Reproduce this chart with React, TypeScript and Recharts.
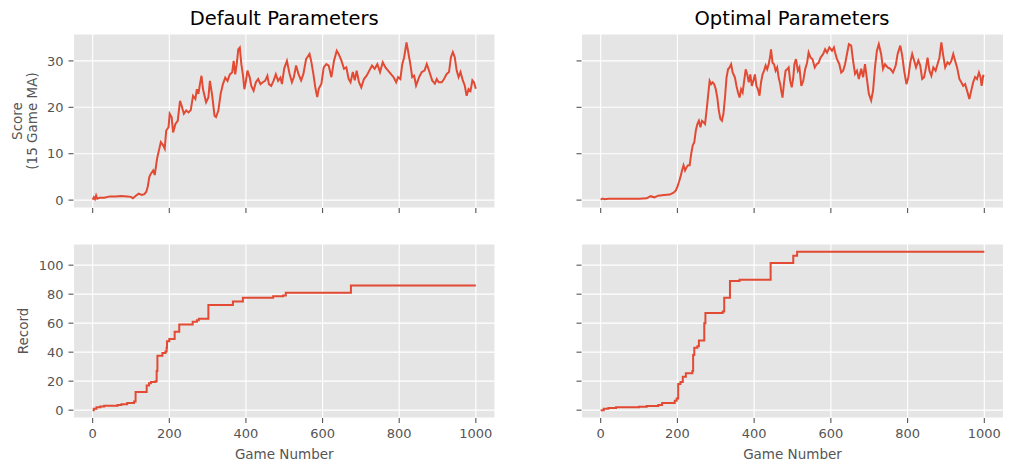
import React from 'react';
import { LineChart, Line, XAxis, YAxis, CartesianGrid } from 'recharts';

// tick values shared by the panels
const gameTicks = [0, 200, 400, 600, 800, 1000];
const scoreTicks = [0, 10, 20, 30];
const recordTicks = [0, 20, 40, 60, 80, 100];

const titles = ['Default Parameters', 'Optimal Parameters'];

// 15 game moving average, default parameters
const defaultScoreGames = [
  0, 3, 6, 9, 12, 18, 30, 45, 60, 75, 90, 100, 105, 112, 120, 128, 135, 140, 144, 148,
  152, 158, 162, 168, 172, 178, 184, 188, 192, 198, 201, 206, 210, 216, 222, 228, 232, 238, 244, 250,
  256, 262, 268, 272, 276, 280, 284, 288, 292, 296, 302, 306, 312, 318, 322, 328, 334, 340, 346, 352,
  358, 364, 368, 372, 376, 380, 384, 388, 392, 396, 400, 404, 410, 414, 420, 426, 432, 438, 444, 450,
  456, 460, 466, 472, 478, 484, 490, 494, 500, 507, 514, 520, 525, 531, 537, 544, 550, 557, 566, 570,
  576, 581, 586, 590, 597, 603, 610, 616, 623, 630, 637, 642, 649, 656, 662, 668, 673, 679, 684, 689,
  695, 701, 708, 715, 722, 729, 736, 743, 750, 757, 764, 771, 778, 785, 792, 797, 803, 808, 813, 819,
  823, 829, 834, 839, 844, 852, 859, 866, 872, 879, 886, 893, 898, 903, 911, 917, 924, 930, 935, 940,
  945, 950, 955, 960, 966, 971, 976, 981, 986, 991, 995, 1000,
];
const defaultScore = [
  0.1, 0.6, 0.2, 1.0, 0.3, 0.5, 0.5, 0.8, 0.8, 0.9, 0.8, 0.7, 0.4, 0.9, 1.4, 1.1, 1.3, 1.8, 3.0, 5.0,
  5.7, 6.4, 5.4, 8.9, 10.4, 12.5, 11.8, 11.1, 15.0, 15.7, 18.6, 17.9, 14.6, 16.4, 17.1, 21.4, 20.4, 18.6, 19.3, 18.9,
  19.4, 22.5, 21.8, 23.9, 22.9, 25.0, 26.8, 23.9, 22.5, 21.1, 22.1, 25.7, 22.5, 18.2, 17.9, 19.3, 22.9, 25.0, 26.4, 25.7,
  27.1, 27.5, 30.0, 27.1, 29.3, 32.5, 32.9, 29.3, 27.1, 23.9, 25.7, 27.9, 26.4, 24.6, 23.6, 25.4, 26.1, 25.0, 25.4, 25.7,
  26.8, 25.0, 24.6, 25.7, 27.1, 25.7, 26.4, 25.0, 28.4, 30.0, 27.2, 25.4, 26.5, 29.0, 27.2, 25.8, 27.2, 30.4, 31.5, 30.1,
  27.2, 24.3, 22.2, 24.0, 25.1, 28.6, 29.3, 29.0, 26.5, 30.1, 32.2, 31.5, 30.1, 28.3, 28.6, 26.1, 25.4, 27.6, 25.8, 27.9,
  25.4, 24.3, 26.1, 26.8, 27.9, 29.0, 28.3, 29.3, 27.6, 29.7, 28.6, 27.9, 27.2, 26.5, 25.4, 26.5, 26.1, 29.3, 30.8, 34.0,
  32.2, 29.3, 26.5, 26.8, 24.7, 26.5, 27.6, 27.9, 29.3, 27.6, 25.8, 25.1, 26.1, 25.4, 25.4, 26.1, 27.2, 27.6, 30.8, 31.9,
  30.8, 27.9, 26.5, 27.6, 25.8, 24.7, 22.5, 23.9, 23.5, 25.8, 25.4, 24.0,
];

// 15 game moving average, optimal parameters
const optimalScoreGames = [
  0, 5, 10, 20, 50, 80, 100, 120, 130, 140, 150, 165, 180, 190, 196, 200, 204, 208, 212, 216,
  220, 224, 228, 232, 236, 240, 244, 248, 252, 256, 260, 264, 268, 272, 276, 280, 284, 288, 292, 296,
  300, 304, 308, 312, 316, 320, 324, 328, 332, 336, 340, 344, 350, 354, 358, 362, 366, 370, 374, 378,
  382, 386, 390, 394, 398, 402, 406, 410, 414, 418, 422, 426, 430, 434, 438, 442, 444, 448, 452, 456,
  460, 464, 468, 470, 474, 478, 482, 486, 490, 494, 498, 502, 505, 509, 514, 518, 523, 528, 533, 538,
  542, 547, 552, 558, 563, 568, 573, 580, 585, 590, 596, 603, 608, 611, 616, 622, 627, 632, 637, 642,
  647, 653, 658, 663, 668, 673, 679, 684, 689, 694, 699, 705, 710, 715, 720, 725, 731, 736, 741, 748,
  755, 762, 769, 774, 781, 786, 791, 797, 802, 807, 812, 817, 822, 828, 833, 838, 843, 848, 852, 857,
  862, 867, 873, 878, 883, 888, 893, 898, 904, 909, 914, 919, 924, 929, 935, 940, 945, 950, 955, 961,
  966, 971, 976, 981, 986, 990, 993, 997, 1000,
];
const optimalScore = [
  0.1, 0.35, 0.2, 0.3, 0.3, 0.3, 0.3, 0.4, 0.85, 0.6, 0.95, 1.1, 1.2, 1.6, 2.1, 2.9, 3.9, 5.0, 6.4, 7.5,
  6.4, 7.1, 7.5, 7.5, 10.0, 11.8, 12.5, 15.0, 16.4, 17.1, 15.7, 17.1, 16.8, 16.4, 19.3, 22.5, 25.7, 25.0, 25.4, 25.0,
  23.9, 22.1, 19.3, 17.5, 17.1, 18.6, 22.1, 26.4, 28.2, 28.6, 29.3, 27.5, 26.4, 24.6, 23.2, 22.1, 23.9, 23.2, 25.7, 28.2,
  27.1, 25.4, 27.1, 24.6, 25.7, 27.1, 24.6, 23.9, 22.5, 25.4, 27.1, 27.9, 29.0, 28.2, 29.3, 31.1, 32.5, 29.6, 29.3, 27.9,
  28.6, 26.4, 25.0, 23.9, 22.1, 25.4, 27.9, 28.2, 28.6, 25.7, 24.3, 26.4, 29.3, 30.4, 27.9, 28.6, 24.6, 25.7, 28.2, 29.6,
  31.8, 30.7, 30.4, 28.6, 29.3, 29.6, 30.7, 31.5, 32.5, 31.8, 32.9, 32.2, 32.9, 31.8, 30.4, 29.3, 27.5, 27.9, 29.3, 31.5,
  33.6, 33.3, 30.0, 27.2, 27.9, 26.1, 28.3, 26.5, 29.3, 26.1, 22.9, 21.5, 23.6, 28.6, 32.2, 33.6, 31.5, 28.3, 29.3, 28.6,
  28.3, 27.5, 29.0, 31.5, 33.3, 31.1, 27.9, 25.0, 26.5, 29.7, 31.5, 30.1, 28.6, 30.1, 29.0, 26.1, 26.5, 28.6, 30.7, 27.9,
  26.8, 28.6, 27.9, 29.3, 30.7, 34.0, 31.1, 28.6, 29.7, 29.3, 30.0, 31.5, 30.0, 28.6, 26.1, 25.4, 24.6, 25.0, 23.6, 21.8,
  23.6, 25.4, 26.5, 26.1, 27.5, 26.5, 24.6, 26.8, 26.8,
];

// best score so far, only the games where it changes
const defaultRecordGames = [
  0, 3, 10, 20, 30, 65, 75, 90, 108, 112, 141, 147, 152, 164, 167, 169, 182, 190, 193, 194,
  200, 214, 226, 261, 272, 277, 302, 366, 392, 471, 497, 504, 674, 1000,
];
const defaultRecord = [
  0, 1, 2, 2.5, 3, 3.5, 4, 5, 6, 12.5, 17, 18.5, 19.5, 20, 27, 37.5, 39.5, 40.5, 43, 47.5,
  49, 54, 59, 61, 62, 63, 72.5, 75, 77.5, 78.5, 79, 81, 86, 86,
];
const optimalRecordGames = [
  0, 8, 20, 40, 100, 120, 150, 160, 193, 198, 202, 208, 214, 222, 239, 241, 244, 252, 256, 270,
  273, 318, 322, 337, 362, 443, 502, 512, 1000,
];
const optimalRecord = [
  0, 1, 1.5, 2, 2.3, 2.8, 3.5, 5, 6.5, 8, 18, 19.5, 23, 25.5, 27, 38, 43, 44, 48, 60,
  67, 68, 77.5, 89, 90, 101.5, 106.5, 109.3, 109.3,
];

const LINE_COLOR = '#E24A33';
const TICK_COLOR = '#555555';
const FONT = '"DejaVu Sans", sans-serif';

const toRows = (games: number[], values: number[]) =>
  games.map((game, i) => ({ game, value: values[i] }));

// rotated y label, one <text> per line (matplotlib style "\n")
const rotatedLabel = (lines: string[], baseX: number) => (props: any) => {
  const vb = props && props.viewBox ? props.viewBox : {};
  const cy = (vb.y ?? 34) + (vb.height ?? 174) / 2;
  return (
    <g transform={`translate(${baseX}, ${cy}) rotate(-90)`}>
      {lines.map((t, i) => (
        <text key={i} x={0} y={i * 15.5} textAnchor="middle" fill={TICK_COLOR} fontSize={13.5} fontFamily={FONT}>
          {t}
        </text>
      ))}
    </g>
  );
};

const bottomLabel = (text: string) => (props: any) => {
  const vb = props && props.viewBox ? props.viewBox : {};
  const cx = (vb.x ?? 73.5) + (vb.width ?? 421.5) / 2;
  const y = (vb.y ?? 208) + 41.3;
  return (
    <text x={cx} y={y} textAnchor="middle" fill={TICK_COLOR} fontSize={13.5} fontFamily={FONT}>
      {text}
    </text>
  );
};

interface PanelProps {
  rows: { game: number; value: number }[];
  left: number;
  top: number;
  plotW: number;
  yDomain: [number, number];
  yTicks: number[];
  showXLabels: boolean;
  showYLabels: boolean;
  step?: boolean;
  yLabel?: string[];
  yLabelX?: number;
  xLabel?: string;
}

const PAD_L = 73.5;
const PAD_T = 34;
const PAD_B = 50;
const PAD_R = 10;
const PLOT_H = 174;

function Panel({ rows, left, top, plotW, yDomain, yTicks, showXLabels, showYLabels, step, yLabel, yLabelX, xLabel }: PanelProps) {
  return (
    <div style={{ position: 'absolute', left, top }}>
      <LineChart
        width={PAD_L + plotW + PAD_R}
        height={PAD_T + PLOT_H + PAD_B}
        data={rows}
        margin={{ top: PAD_T, right: PAD_R, bottom: 0, left: 0 }}
      >
        <CartesianGrid fill="#E5E5E5" fillOpacity={1} stroke="#FFFFFF" strokeWidth={1.1} />
        <XAxis
          dataKey="game"
          type="number"
          domain={[-50, 1050]}
          ticks={gameTicks}
          interval={0}
          allowDataOverflow
          height={PAD_B}
          axisLine={false}
          tickSize={5}
          tickMargin={6}
          tickLine={{ stroke: TICK_COLOR, strokeWidth: 1.1 }}
          tick={{ fill: TICK_COLOR, fontSize: 13, fontFamily: FONT }}
          tickFormatter={showXLabels ? (v: number) => String(v) : () => ''}
          label={xLabel ? bottomLabel(xLabel) : undefined}
        />
        <YAxis
          type="number"
          domain={yDomain}
          ticks={yTicks}
          interval={0}
          allowDataOverflow
          width={PAD_L}
          axisLine={false}
          tickSize={5}
          tickMargin={5}
          tickLine={{ stroke: TICK_COLOR, strokeWidth: 1.1 }}
          tick={{ fill: TICK_COLOR, fontSize: 13, fontFamily: FONT }}
          tickFormatter={showYLabels ? (v: number) => String(v) : () => ''}
          label={yLabel ? rotatedLabel(yLabel, yLabelX ?? 20) : undefined}
        />
        <Line
          type={step ? 'stepAfter' : 'linear'}
          dataKey="value"
          stroke={LINE_COLOR}
          strokeWidth={2}
          dot={false}
          activeDot={false}
          isAnimationActive={false}
        />
      </LineChart>
    </div>
  );
}

export default function App() {
  const scoreDomain: [number, number] = [-1.7, 35.8];
  const recordDomain: [number, number] = [-5.4, 114.6];
  return (
    <div
      style={{
        position: 'absolute',
        left: 0,
        top: 0,
        width: 1013,
        height: 471,
        background: '#FFFFFF',
        fontFamily: FONT,
        overflow: 'hidden',
      }}
    >
      <Panel
        rows={toRows(defaultScoreGames, defaultScore)}
        left={0}
        top={0}
        plotW={421.5}
        yDomain={scoreDomain}
        yTicks={scoreTicks}
        showXLabels={false}
        showYLabels
        yLabel={['Score', '(15 Game MA)']}
        yLabelX={21.5}
      />
      <Panel
        rows={toRows(optimalScoreGames, optimalScore)}
        left={507.5}
        top={0}
        plotW={422}
        yDomain={scoreDomain}
        yTicks={scoreTicks}
        showXLabels={false}
        showYLabels={false}
      />
      <Panel
        rows={toRows(defaultRecordGames, defaultRecord)}
        left={0}
        top={210}
        plotW={421.5}
        yDomain={recordDomain}
        yTicks={recordTicks}
        showXLabels
        showYLabels
        step
        yLabel={['Record']}
        yLabelX={28}
        xLabel="Game Number"
      />
      <Panel
        rows={toRows(optimalRecordGames, optimalRecord)}
        left={507.5}
        top={210}
        plotW={422}
        yDomain={recordDomain}
        yTicks={recordTicks}
        showXLabels
        showYLabels={false}
        step
        xLabel="Game Number"
      />
      <svg width={1013} height={40} style={{ position: 'absolute', left: 0, top: 0, pointerEvents: 'none' }}>
        <text x={284.25} y={25} textAnchor="middle" fontSize={19.5} fontFamily={FONT} fill="#000000">
          {titles[0]}
        </text>
        <text x={792} y={25} textAnchor="middle" fontSize={19.5} fontFamily={FONT} fill="#000000">
          {titles[1]}
        </text>
      </svg>
    </div>
  );
}
